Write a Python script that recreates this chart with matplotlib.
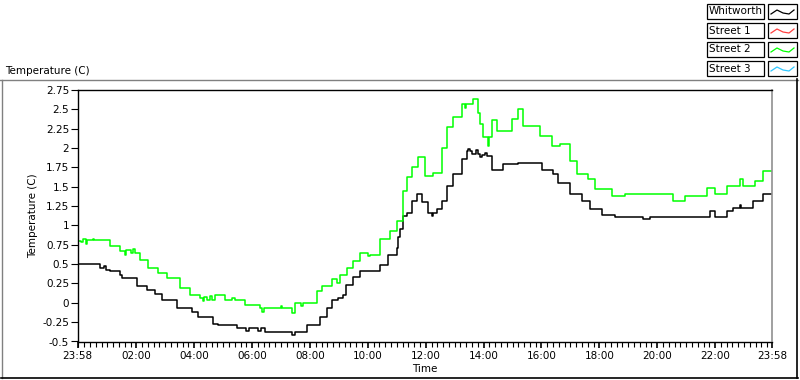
import matplotlib
matplotlib.use("Agg")
from matplotlib import pyplot as plt
from matplotlib.lines import Line2D
from matplotlib.patches import Rectangle
import numpy as np

# hours since midnight (23:58 of the previous day = -2/60)
whit_t = [-0.033, 0.745, 0.88, 0.95, 1.09, 1.435, 1.49, 2.01, 2.36, 2.645, 2.88, 3.39, 3.91, 4.14,
          4.66, 4.83, 5.47, 5.8, 5.9, 6.2, 6.3, 6.45, 7.37, 7.48, 7.89, 8.35, 8.58, 8.75, 8.98,
          9.15, 9.25, 9.50, 9.73, 10.42, 10.71, 11.00, 11.05, 11.12, 11.23, 11.35, 11.52, 11.69,
          11.86, 12.09, 12.2, 12.25, 12.38, 12.55, 12.72, 12.95, 13.24, 13.41, 13.47, 13.53,
          13.59, 13.75, 13.8, 13.87, 13.95, 14.05, 14.12, 14.28, 14.68, 15.20, 16.01, 16.41,
          16.58, 16.98, 17.39, 17.68, 18.08, 18.54, 19.50, 19.75, 21.82, 21.99, 22.40, 22.62,
          22.85, 22.9, 23.32, 23.67, 23.967]
whit_v = [0.50, 0.45, 0.47, 0.43, 0.415, 0.36, 0.32, 0.22, 0.16, 0.12, 0.04, -0.07, -0.125, -0.18,
          -0.27, -0.29, -0.33, -0.36, -0.33, -0.37, -0.33, -0.375, -0.415, -0.375, -0.29, -0.18,
          -0.07, 0.04, 0.06, 0.105, 0.225, 0.33, 0.405, 0.49, 0.62, 0.71, 0.85, 0.95, 1.12, 1.16,
          1.31, 1.40, 1.30, 1.16, 1.12, 1.16, 1.21, 1.31, 1.51, 1.66, 1.855, 1.96, 1.99, 1.96,
          1.92, 1.97, 1.92, 1.88, 1.91, 1.94, 1.90, 1.72, 1.80, 1.81, 1.72, 1.66, 1.55, 1.40,
          1.31, 1.21, 1.14, 1.11, 1.08, 1.11, 1.185, 1.11, 1.185, 1.22, 1.26, 1.22, 1.31, 1.41,
          1.41]

st2_t = [-0.033, 0.1, 0.15, 0.25, 0.3, 0.5, 0.55, 1.09, 1.435, 1.6, 1.65, 1.8, 1.9, 1.95, 2.13,
         2.41, 2.76, 3.05, 3.51, 3.85, 4.20, 4.3, 4.35, 4.45, 4.55, 4.6, 4.72, 5.06, 5.3, 5.4,
         5.76, 6.27, 6.35, 6.40, 7.0, 7.05, 7.37, 7.48, 7.7, 7.75, 8.23, 8.40, 8.75, 8.92, 9.04,
         9.27, 9.50, 9.73, 10.02, 10.07, 10.42, 10.77, 11.00, 11.23, 11.34, 11.52, 11.74, 11.97,
         12.26, 12.55, 12.72, 12.95, 13.24, 13.35, 13.4, 13.64, 13.82, 13.87, 13.98, 14.15, 14.2,
         14.28, 14.45, 14.97, 15.20, 15.37, 15.95, 16.35, 16.64, 16.98, 17.22, 17.62, 17.85,
         18.43, 18.89, 20.56, 20.96, 21.71, 21.99, 22.40, 22.85, 22.97, 23.38, 23.67, 23.967]
st2_v = [0.80, 0.78, 0.82, 0.76, 0.81, 0.83, 0.81, 0.73, 0.67, 0.62, 0.68, 0.64, 0.69, 0.65, 0.55,
         0.45, 0.385, 0.32, 0.19, 0.105, 0.06, 0.02, 0.08, 0.03, 0.09, 0.04, 0.105, 0.03, 0.06, 0.03,
         -0.025, -0.07, -0.12, -0.07, -0.04, -0.07, -0.13, 0.0, -0.04, 0.0, 0.15, 0.22, 0.305, 0.25,
         0.36, 0.45, 0.54, 0.645, 0.60, 0.62, 0.82, 0.925, 1.055, 1.44, 1.62, 1.75, 1.88, 1.64,
         1.68, 2.0, 2.27, 2.40, 2.57, 2.52, 2.57, 2.63, 2.45, 2.31, 2.14, 2.03, 2.14,
         2.36, 2.22, 2.37, 2.50, 2.29, 2.16, 2.03, 2.05, 1.83, 1.66, 1.60, 1.47,
         1.38, 1.41, 1.31, 1.38, 1.49, 1.41, 1.51, 1.605, 1.51, 1.57, 1.70, 1.70]

legend_names = ["Whitworth", "Street 1", "Street 2", "Street 3"]
legend_colors = ["black", "#ff4040", "#00ff00", "#30c8ff"]

x_ticks = [-2 / 60, 2, 4, 6, 8, 10, 12, 14, 16, 18, 20, 22, 24 - 2 / 60]
x_labels = ["23:58", "02:00", "04:00", "06:00", "08:00", "10:00", "12:00", "14:00",
            "16:00", "18:00", "20:00", "22:00", "23:58"]
y_ticks = [-0.5, -0.25, 0, 0.25, 0.5, 0.75, 1, 1.25, 1.5, 1.75, 2, 2.25, 2.5, 2.75]
y_labels = ["-0.5", "-0.25", "0", "0.25", "0.5", "0.75", "1", "1.25", "1.5", "1.75", "2",
            "2.25", "2.5", "2.75"]

W, H = 800, 380
fs = 7.5
plt.rcParams['font.family'] = ['DejaVu Sans']

fig = plt.figure(figsize=(8, 3.8), dpi=100)

def fx(px):
    return px / W

def fy(py):
    return 1 - py / H

# outer panel frame
fig.add_artist(Line2D([fx(0), fx(798)], [fy(80), fy(80)], color="#808080", lw=1))
fig.add_artist(Line2D([fx(1.5), fx(1.5)], [fy(80), fy(378)], color="#808080", lw=1))
fig.add_artist(Line2D([fx(1), fx(798)], [fy(378), fy(378)], color="black", lw=1.2))
fig.add_artist(Line2D([fx(797), fx(797)], [fy(79), fy(378)], color="black", lw=1.2))

fig.text(fx(5), fy(71), "Temperature (C)", fontsize=fs, ha="left", va="center")

ax = fig.add_axes([fx(77.5), fy(341.5), fx(772 - 77.5), (341.5 - 90) / H])
ax.plot(whit_t, whit_v, color="black", lw=1.1, drawstyle="steps-post")
ax.plot(st2_t, st2_v, color="#00ff00", lw=1.1, drawstyle="steps-post")

ax.set_xlim(-2 / 60, 24 - 2 / 60)
ax.set_ylim(-0.5, 2.75)
ax.set_xticks(x_ticks)
ax.set_xticklabels(x_labels, fontsize=fs)
ax.set_xticks(np.arange(0, 24, 0.2), minor=True)
ax.set_yticks(y_ticks)
ax.set_yticklabels(y_labels, fontsize=fs)
ax.tick_params(axis="x", which="major", length=4, width=1.2, pad=3)
ax.tick_params(axis="x", which="minor", length=3.5, width=0.8)
ax.tick_params(axis="y", length=5, width=0.8, pad=1)
ax.set_xlabel("Time", fontsize=fs, labelpad=2)
ax.set_ylabel("Temperature (C)", fontsize=fs, labelpad=3)
for s in ["left", "bottom", "top"]:
    ax.spines[s].set_color("black")
    ax.spines[s].set_linewidth(1.0)
ax.spines["right"].set_color("#909090")
ax.spines["right"].set_linewidth(1.2)

# legend, drawn as boxes above the panel
for i, (name, col) in enumerate(zip(legend_names, legend_colors)):
    top = 4 + 19 * i
    fig.add_artist(Rectangle((fx(707), fy(top + 15)), fx(57), 15 / H, fill=False,
                             edgecolor="black", lw=0.9))
    fig.text(fx(709), fy(top + 7.5), name, fontsize=fs, ha="left", va="center")
    fig.add_artist(Rectangle((fx(768), fy(top + 15)), fx(29), 15 / H, fill=False,
                             edgecolor="black", lw=0.9))
    sx = [771, 777, 783, 789, 794]
    sy = [top + 10, top + 6, top + 9, top + 10, top + 6]
    fig.add_artist(Line2D([fx(v) for v in sx], [fy(v) for v in sy], color=col, lw=0.9))

fig.savefig("out.png", dpi=100)
